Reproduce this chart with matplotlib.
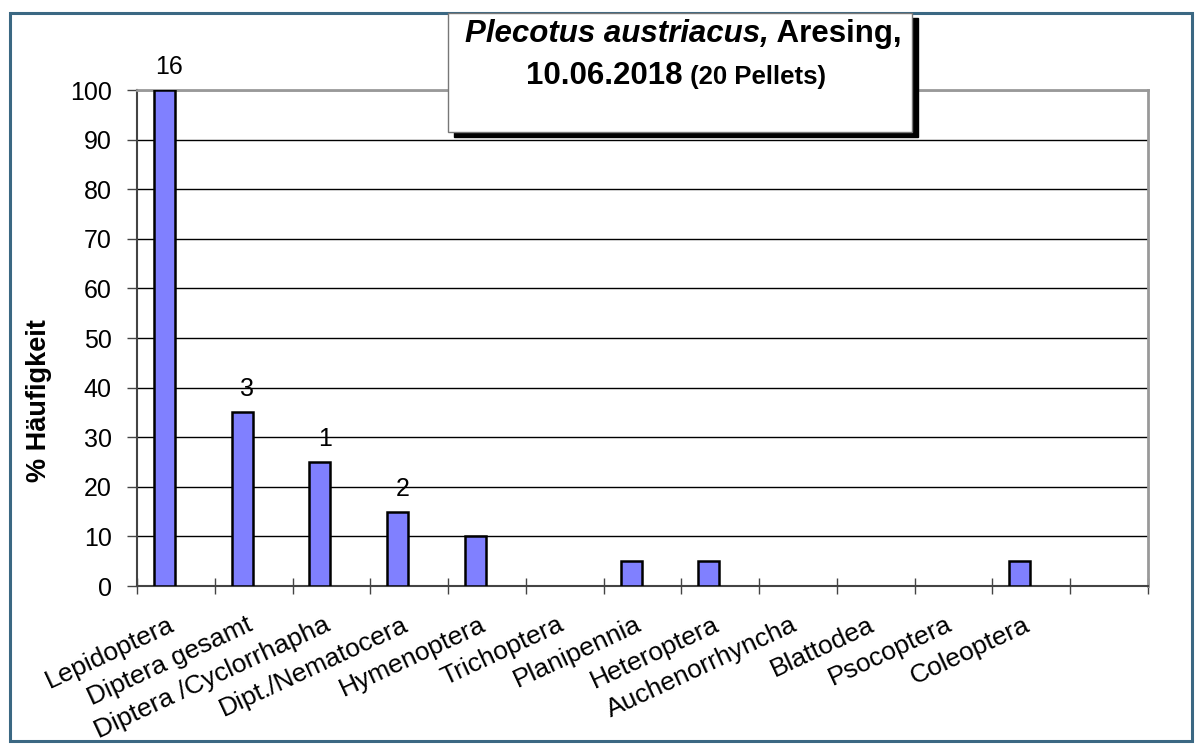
import matplotlib.pyplot as plt
from matplotlib.patches import Rectangle

# --- data ---
categories = ['Lepidoptera', 'Diptera gesamt', 'Diptera /Cyclorrhapha', 'Dipt./Nematocera',
              'Hymenoptera', 'Trichoptera', 'Planipennia', 'Heteroptera',
              'Auchenorrhyncha', 'Blattodea', 'Psocoptera', 'Coleoptera', '']
percent = [100, 35, 25, 15, 10, 0, 5, 5, 0, 0, 0, 5, 0]
counts = ['16', '3', '1', '2', '', '', '', '', '', '', '', '', '']

plt.rcParams['font.family'] = ['Liberation Sans', 'DejaVu Sans']

W, H = 1202, 751
fig = plt.figure(figsize=(W / 100, H / 100), dpi=100)

# figure frame
fig.patches.append(Rectangle((10 / W, 1 - 741 / H), 1182 / W, 728 / H,
                             transform=fig.transFigure, fill=False,
                             edgecolor='#3b6883', linewidth=2.2, zorder=0))

# plot area: x 137..1148, y 90..586 px
ax = fig.add_axes([137 / W, 1 - 586 / H, 1011 / W, 496 / H])
n = len(categories)
ax.set_xlim(0, n)
ax.set_ylim(0, 100)

# bar sits in the left part of each slot (Excel layout with a second empty series)
bar_w = 21 / 78
xs = [i + 27.5 / 78 for i in range(n)]
for i in range(n):
    if percent[i] > 0:
        ax.bar(xs[i], percent[i], width=bar_w, color='#8080ff', edgecolor='black',
               linewidth=1.8, zorder=3)
    if counts[i]:
        ax.text(xs[i] + 5 / 78, percent[i] + 2.2, counts[i], ha='center', va='bottom',
                fontsize=18, zorder=4)

ax.set_yticks(range(0, 101, 10))
ax.yaxis.grid(True, color='black', linewidth=1)
ax.set_axisbelow(True)
ax.tick_params(axis='y', direction='out', length=7.2, width=1, labelsize=18, pad=11,
               color='#444444')

ax.set_xticks(range(n + 1))
ax.set_xticklabels([])
ax.tick_params(axis='x', direction='inout', length=11.5, width=1, color='#444444')

for i, lab in enumerate(categories):
    if lab:
        ax.text(i + 0.40, -5.3, lab, rotation=25, ha='right', va='top',
                rotation_mode='anchor', fontsize=19)

for side in ['left', 'bottom']:
    ax.spines[side].set_color('#444444')
    ax.spines[side].set_linewidth(1.5)
for side in ['top', 'right']:
    ax.spines[side].set_color('#999999')
    ax.spines[side].set_linewidth(2)

ax.set_ylabel('% Häufigkeit', fontsize=19.5, fontweight='bold')
ax.yaxis.set_label_coords((52 - 137) / 1011, 0.373)

# title box with shadow
bx, by, bw, bh = 448, 13, 464, 119
fig.patches.append(Rectangle(((bx + 6) / W, 1 - (by + bh + 5) / H), bw / W, bh / H,
                             transform=fig.transFigure, facecolor='black',
                             edgecolor='black', zorder=5))
fig.patches.append(Rectangle((bx / W, 1 - (by + bh) / H), bw / W, bh / H,
                             transform=fig.transFigure, facecolor='white',
                             edgecolor='#777777', linewidth=1, zorder=6))


def title_line(parts, center_px, baseline_px):
    # parts: (text, size, style) placed next to each other, centred as one line
    texts = [fig.text(0, 1 - baseline_px / H, s, fontsize=sz, fontweight='bold',
                      style=st, ha='left', va='baseline', zorder=7)
             for s, sz, st in parts]
    r = fig.canvas.get_renderer()
    widths = [t.get_window_extent(r).width for t in texts]
    x = center_px - sum(widths) / 2
    for t, w in zip(texts, widths):
        t.set_x(x / W)
        x += w


title_line([('Plecotus austriacus,', 22.5, 'italic'), (' Aresing,', 22.5, 'normal')], 683, 42)
title_line([('10.06.2018', 22.5, 'normal'), (' (20 Pellets)', 18.5, 'normal')], 676, 84)

fig.savefig('out.png', dpi=100)
